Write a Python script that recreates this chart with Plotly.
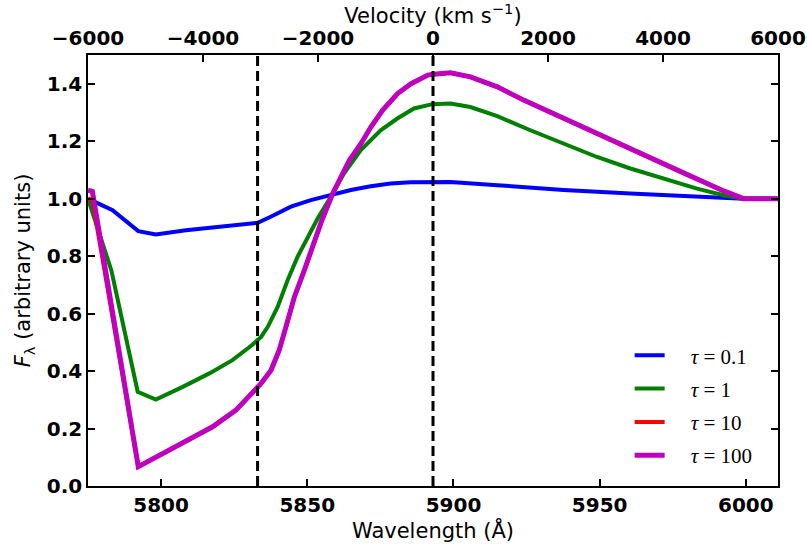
import plotly.graph_objects as go

# ---- data ----
wl_blue = [5775, 5783.4, 5792.2, 5798.2, 5808.5, 5822.0, 5830.7, 5833.0, 5837.5, 5844.4, 5851.2,
           5858.0, 5864.9, 5871.7, 5878.5, 5885.4, 5893.0, 5899.0, 5915.0, 5937.7, 5960.5,
           5983.3, 5999.2, 6011]
f_blue = [1.0, 0.96, 0.887, 0.875, 0.89, 0.904, 0.911, 0.916, 0.937, 0.972, 0.995,
          1.012, 1.03, 1.043, 1.053, 1.057, 1.058, 1.058, 1.047, 1.03, 1.018,
          1.007, 1.0, 1.0]

wl_green = [5775, 5783.0, 5792.0, 5798.2, 5807.4, 5816.5, 5824.4, 5830.7, 5834.2, 5836.5,
            5839.9, 5843.3, 5846.7, 5849.6, 5853.5, 5858.0, 5862.6, 5868.3, 5875.1, 5880.8,
            5886.5, 5892.8, 5899.0, 5905.8, 5915.0, 5926.3, 5937.7, 5949.1, 5960.5, 5971.9,
            5983.3, 5992.4, 5999.2, 6011]
f_green = [1.0, 0.75, 0.328, 0.301, 0.345, 0.392, 0.438, 0.487, 0.519, 0.554,
           0.624, 0.717, 0.798, 0.856, 0.93, 1.006, 1.088, 1.169, 1.238, 1.279,
           1.314, 1.329, 1.331, 1.319, 1.287, 1.238, 1.192, 1.145, 1.105, 1.07,
           1.035, 1.012, 1.0, 1.0]

wl_strong = [5775, 5776.5, 5792.2, 5798.2, 5808.5, 5817.6, 5825.6, 5830.7, 5834.2, 5837.6,
             5840.4, 5842.7, 5845.6, 5849.0, 5852.4, 5855.0, 5858.7, 5864.4, 5868.4, 5871.8,
             5875.8, 5880.9, 5885.5, 5891.2, 5893.3, 5899.0, 5905.8, 5915.0, 5924.0, 5937.7,
             5951.4, 5965.0, 5978.7, 5992.4, 5999.2, 6011]
f_tau100 = [1.03, 1.025, 0.067, 0.10, 0.154, 0.206, 0.264, 0.317, 0.357, 0.403,
            0.473, 0.554, 0.658, 0.751, 0.85, 0.925, 1.018, 1.134, 1.192, 1.25,
            1.308, 1.366, 1.40, 1.43, 1.433, 1.438, 1.424, 1.389, 1.343, 1.279,
            1.217, 1.151, 1.088, 1.027, 1.0, 1.0]
f_tau10 = [1.0, 0.995, 0.067, 0.10, 0.154, 0.206, 0.264, 0.317, 0.357, 0.403,
           0.473, 0.554, 0.658, 0.751, 0.85, 0.925, 1.018, 1.134, 1.192, 1.25,
           1.308, 1.366, 1.40, 1.43, 1.433, 1.438, 1.424, 1.389, 1.343, 1.279,
           1.217, 1.151, 1.088, 1.027, 1.0, 1.0]

labels = ["<i>τ</i> = 0.1", "<i>τ</i> = 1", "<i>τ</i> = 10", "<i>τ</i> = 100"]
dashed_wavelengths = [5833, 5893]
wl_range = [5775, 6011]
vel_range = [-6000, 6000]
wl_ticks = [5800, 5850, 5900, 5950, 6000]
vel_ticks = [-6000, -4000, -2000, 0, 2000, 4000, 6000]
y_ticks = [0.0, 0.2, 0.4, 0.6, 0.8, 1.0, 1.2, 1.4]

fig = go.Figure()
series = [
    (wl_blue, f_blue, "#0000ff", 4),
    (wl_green, f_green, "#008000", 4),
    (wl_strong, f_tau10, "#ff0000", 4),
    (wl_strong, f_tau100, "#bf00bf", 5),
]
pad = "&nbsp;" * 4
for i, (x, y, c, w) in enumerate(series):
    fig.add_trace(go.Scatter(x=x, y=y, mode="lines", name=pad + labels[i], legendgroup=str(i),
                             line=dict(color=c, width=w)))

# invisible trace to activate top axis
fig.add_trace(go.Scatter(x=vel_range, y=[None, None], xaxis="x2", mode="lines",
                         showlegend=False, hoverinfo="skip"))

for xv in dashed_wavelengths:
    fig.add_vline(x=xv, line=dict(color="black", width=3, dash="10px,5px"))

tickfont = dict(family="DejaVu Sans", size=20, color="black", weight="bold")
titlefont = dict(family="DejaVu Sans", size=21, color="black")

fig.update_layout(
    width=807, height=550,
    margin=dict(l=88, r=29, t=55, b=64, autoexpand=False),
    plot_bgcolor="white", paper_bgcolor="white",
    showlegend=True,
    legend=dict(x=0.785, y=0.35, xanchor="left", yanchor="top",
                font=dict(family="Liberation Serif", size=21, color="black"),
                bgcolor="rgba(0,0,0,0)", tracegroupgap=3),
    xaxis=dict(range=wl_range, tickvals=wl_ticks, ticks="inside", ticklen=7, tickwidth=1.5,
               tickcolor="black", showline=True, linecolor="black", linewidth=1.5,
               showgrid=False, zeroline=False, tickfont=tickfont, automargin=False,
               title=dict(text="Wavelength (Å)", font=titlefont, standoff=4)),
    xaxis2=dict(range=vel_range, tickvals=vel_ticks, overlaying="x", side="top", anchor="y",
                ticks="inside", ticklen=7, tickwidth=1.5, tickcolor="black",
                showline=True, linecolor="black", linewidth=1.5, showgrid=False,
                zeroline=False, tickfont=tickfont, automargin=False,
                title=dict(text="Velocity (km s<sup>−1</sup>)", font=titlefont, standoff=2)),
    yaxis=dict(range=[0, 1.5], tickvals=y_ticks, tickformat=".1f", ticks="inside", ticklen=7,
               tickwidth=1.5, tickcolor="black", showline=True, linecolor="black",
               linewidth=1.5, mirror="ticks", showgrid=False, zeroline=False,
               tickfont=tickfont, automargin=False,
               title=dict(text="<i>F</i><sub>λ</sub> (arbitrary units)", font=titlefont,
                          standoff=10)),
)

fig.write_html("out.html")
